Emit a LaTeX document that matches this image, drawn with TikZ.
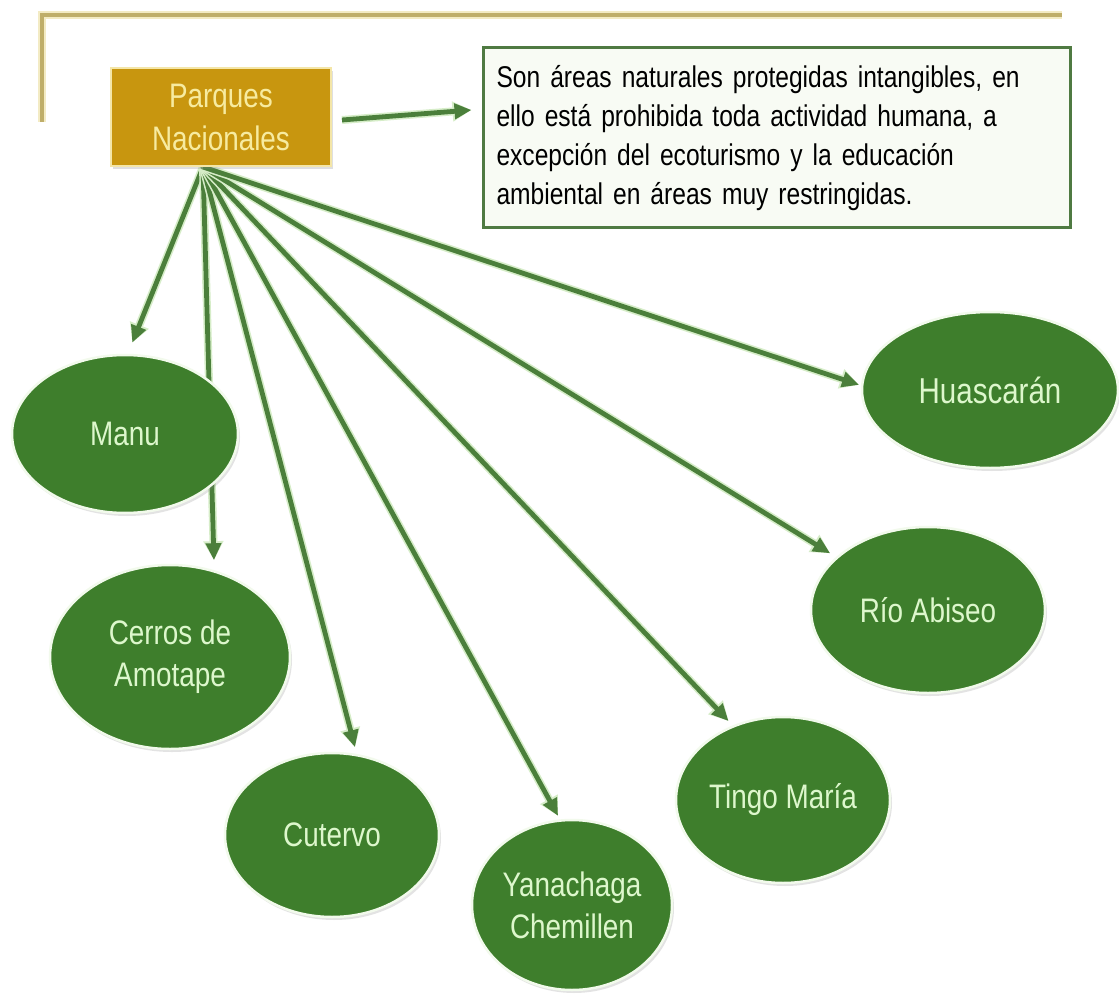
\documentclass[tikz,border=0pt]{standalone}
\usepackage{fontspec}
\newfontfamily\narrowf[FakeStretch=0.82]{Liberation Sans}
\usetikzlibrary{arrows.meta,shadows,calc,shapes.geometric}
\pgfdeclarelayer{bg}
\pgfsetlayers{bg,main}
\definecolor{ellgreen}{HTML}{3E7E2C}
\definecolor{elltext}{HTML}{DDF7CC}
\definecolor{rimcol}{HTML}{F2FAEC}
\definecolor{arrgreen}{HTML}{4B7F3B}
\definecolor{arrglow}{HTML}{D6EDC8}
\definecolor{goldfill}{HTML}{C8960F}
\definecolor{goldrim}{HTML}{F4E6A8}
\definecolor{goldtext}{HTML}{F7EBA0}
\definecolor{boxborder}{HTML}{4F7A42}
\definecolor{boxfill}{HTML}{F8FBF4}
\definecolor{tanline}{HTML}{BFAE6A}
\definecolor{tanglow}{HTML}{F3EBC4}
\begin{document}
\begin{tikzpicture}[x=1pt,y=-1pt,
  park/.style={ellipse, fill=ellgreen, draw=rimcol, line width=2.5pt, inner sep=0pt,
    text=elltext, align=center, font=\narrowf\fontsize{34}{42}\selectfont,
    drop shadow={opacity=0.22, shadow xshift=2pt, shadow yshift=-3pt}},
  mainbox/.style={rectangle, fill=goldfill, draw=goldrim, line width=2pt,
    minimum width=220pt, minimum height=98pt, inner sep=0pt, align=center,
    text=goldtext, font=\narrowf\fontsize{34}{43}\selectfont,
    drop shadow={opacity=0.25, shadow xshift=2pt, shadow yshift=-3pt}},
  descbox/.style={rectangle, fill=boxfill, draw=boxborder, line width=3pt,
    minimum width=587pt, minimum height=180pt, inner sep=0pt, text width=560pt,
    align=left, font=\narrowf\fontsize{30}{39}\selectfont},
  arr/.style={draw=arrgreen, line width=4.8pt, -{Triangle[length=17pt,width=15pt]},
    preaction={draw=arrglow, line width=8pt, -{Triangle[length=19pt,width=19pt]}}},
  topline/.style={draw=tanline, line width=3.5pt}
]
\useasboundingbox (0,0) rectangle (1119,995);

% main nodes
\node[mainbox] (parques) at (221,117) {Parques\\Nacionales};
\node[descbox] (desc) at (776.5,138) {%
\makebox[560pt][s]{Son áreas naturales protegidas intangibles, en}\\
\makebox[560pt][s]{ello está prohibida toda actividad humana, a}\\
\makebox[560pt][s]{excepción del ecoturismo y la educación}\\
ambiental en áreas muy restringidas.};

% parks
\node[park, minimum width=226pt, minimum height=158pt] (manu) at (125,434) {Manu};
\node[park, minimum width=240pt, minimum height=184pt] (cerros) at (170,657) {Cerros de\\Amotape};
\node[park, minimum width=214pt, minimum height=164pt] (cutervo) at (332,835) {Cutervo};
\node[park, minimum width=200pt, minimum height=170pt] (yana) at (572,905) {Yanachaga\\Chemillen};
\node[park, minimum width=214pt, minimum height=166pt] (tingo) at (783,800) {Tingo María};
\node[park, minimum width=234pt, minimum height=166pt] (rio) at (928,610) {Río Abiseo};
\node[park, minimum width=256pt, minimum height=156pt, font=\narrowf\fontsize{36}{42}\selectfont] (huasc) at (990,390) {Huascarán};

\coordinate (hub) at ([xshift=-18pt]parques.south);

\begin{pgfonlayer}{bg}
\fill[white] (0,0) rectangle (1119,995);
% decorative frame lines
\draw[tanglow, line width=8pt] (42,122) -- (42,15) -- (1062,15);
\draw[topline] (42,122) -- (42,15) -- (1062,15);
% connectors
\draw[arr] ([xshift=10pt,yshift=-3pt]parques.east) -- ([xshift=-10pt,yshift=28pt]desc.west);
\draw[arr, shorten >=12pt] (hub) -- (manu.88);
\draw[arr, shorten >=10pt] (hub) -- (cerros.63);
\draw[arr, shorten >=7pt] (hub) -- (cutervo.73);
\draw[arr, shorten >=4pt] (hub) -- (yana.98);
\draw[arr, shorten >=6pt] (hub) -- (tingo.124);
\draw[arr, shorten >=7pt] (hub) -- (rio.150);
\draw[arr, shorten >=2pt] (hub) -- (huasc.178);
\end{pgfonlayer}
\end{tikzpicture}
\end{document}
